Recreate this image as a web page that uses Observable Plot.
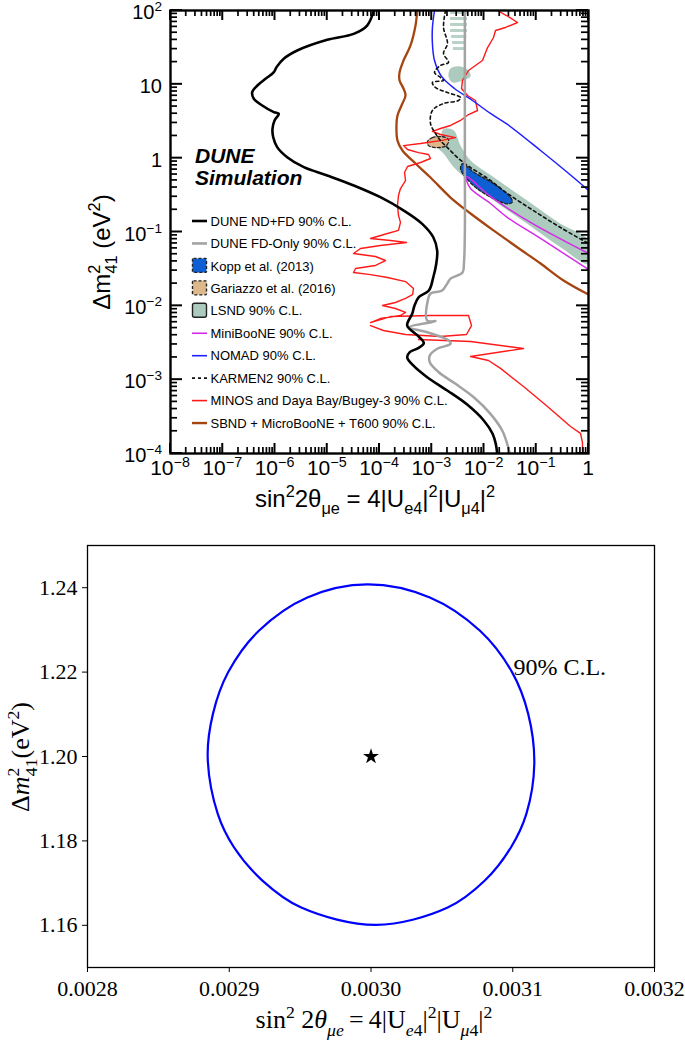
<!DOCTYPE html>
<html><head><meta charset="utf-8">
<script src="https://cdn.jsdelivr.net/npm/d3@7"></script>
<script src="https://cdn.jsdelivr.net/npm/@observablehq/plot@0.6"></script>
<style>
html,body{margin:0;padding:0;background:#fff;}
#top,#bottom{width:685px;}
svg{display:block;}
</style></head><body>
<div id="top"></div><div id="bottom"></div>
<script>
// ---------- TOP PANEL DATA: [sin^2 2theta, dm^2 (eV^2)] ----------
const sin2Exps = [-8,-7,-6,-5,-4,-3,-2,-1,0];
const dm2Exps = [-4,-3,-2,-1,0,1,2];

const duneNdFd = [[7.8e-5,100],[5.8e-5,62.6],[3.2e-5,48.3],[1.0e-5,40.1],[2.66e-6,28.7],[1.47e-6,22.2],[1.07e-6,17.1],[9.5e-7,14.6],[6.6e-7,11.9],[4.6e-7,9.64],[3.66e-7,7.82],[3.93e-7,6.37],[5.7e-7,5.17],[9.5e-7,4.2],[1.18e-6,3.99],[9.8e-7,3.24],[8.95e-7,2.5],[9.25e-7,1.92],[1.1e-6,1.41],[1.71e-6,1.03],[3.56e-6,0.755],[1.0e-5,0.582],[3.22e-5,0.427],[1.04e-4,0.296],[2.92e-4,0.195],[6.56e-4,0.129],[1.07e-3,0.0849],[1.27e-3,0.0561],[1.22e-3,0.0371],[1.07e-3,0.0244],[8.8e-4,0.0161],[5.65e-4,0.0131],[4.68e-4,0.0101],[4.23e-4,7.8e-3],[3.39e-4,5.41e-3],[5.65e-4,3.84e-3],[7.05e-4,3.12e-3],[5.51e-4,2.67e-3],[3.8e-4,2.36e-3],[3.39e-4,2.01e-3],[4.42e-4,1.56e-3],[8.18e-4,1.08e-3],[1.98e-3,7.13e-4],[4.76e-3,4.6e-4],[9.9e-3,2.8e-4],[1.46e-2,1.85e-4],[1.68e-2,1.35e-4],[1.79e-2,1e-4]];

const duneFdOnly = [[4.3e-3,100],[4.3e-3,1],[4.3e-3,0.1],[4.14e-3,0.0386],[3.88e-3,0.0283],[2.29e-3,0.0234],[1.98e-3,0.02],[1.58e-3,0.0161],[9.46e-4,0.0147],[8.39e-4,0.0118],[8.18e-4,6.32e-3],[1.18e-3,6.19e-3],[3.64e-4,5.13e-3],[8.18e-4,4.39e-3],[2.12e-3,3.39e-3],[2.29e-3,3.06e-3],[1.27e-3,2.62e-3],[9.18e-4,2.12e-3],[9.18e-4,1.72e-3],[1.36e-3,1.26e-3],[2.85e-3,8.79e-4],[6.38e-3,5.78e-4],[1.33e-2,3.44e-4],[2.23e-2,2.05e-4],[2.78e-2,1.35e-4],[3.12e-2,1e-4]];

const sbnd = [[5.27e-4,100],[4.89e-4,62.6],[3.92e-4,33.6],[2.88e-4,21],[2.42e-4,14.5],[2.42e-4,11.3],[2.88e-4,8.78],[3.15e-4,7.06],[2.64e-4,5.17],[2.21e-4,3.78],[2.11e-4,2.6],[2.21e-4,1.73],[2.75e-4,1.27],[4.89e-4,0.847],[9.46e-4,0.547],[2.29e-3,0.293],[5.52e-3,0.178],[1.52e-2,0.105],[4.38e-2,0.0617],[0.121,0.0374],[0.333,0.022],[1,0.0142]];

const nomad = [[1.13e-3,100],[1.03e-3,58.9],[1.03e-3,35.7],[1.13e-3,21],[1.54e-3,12.8],[2.72e-3,8.78],[6.03e-3,6.04],[1.33e-2,4.03],[2.82e-2,2.86],[0.121,1.27],[0.516,0.547],[1,0.365]];

const miniboone = [[1,0.0512],[7.76e-2,0.135],[1.33e-2,0.303],[5.05e-3,0.547],[4.43e-3,0.565],[4.62e-3,0.498],[5.52e-3,0.388],[1.33e-2,0.243],[2.82e-2,0.157],[0.121,0.0817],[1,0.031]];

const karmen2 = [[1.83e-3,100],[1.68e-3,58.9],[2.0e-3,35.7],[1.68e-3,26.2],[2.09e-3,19.8],[1.47e-3,18],[1.13e-3,14.5],[1.47e-3,12.4],[1.68e-3,11.3],[1.03e-3,10.6],[1.18e-3,9.06],[2.0e-3,7.75],[3.55e-3,6.63],[3.25e-3,6.04],[1.68e-3,5.5],[1.03e-3,4.42],[9.46e-4,2.95],[1.18e-3,2.16],[1.47e-3,1.73],[2.0e-3,1.39],[3.11e-3,1.02],[4.83e-3,0.796],[1.17e-2,0.531],[2.82e-2,0.332],[8.85e-2,0.195],[0.291,0.115],[1,0.0698]];

const minosUpper = [[1.79e-2,100],[2.70e-2,85.5],[4.38e-2,68.8],[2.58e-2,58.9],[1.66e-2,53.6],[1.52e-2,43.1],[1.17e-2,31.5],[9.35e-3,21.0],[5.05e-3,15.4],[3.88e-3,11.3],[3.71e-3,8.78],[4.83e-3,7.06],[6.87e-3,6.04],[7.52e-3,4.42],[5.05e-3,3.9],[3.55e-3,3.24],[2.29e-3,2.77],[1.47e-3,2.52],[1.03e-3,2.3],[1.47e-3,2.09],[2.85e-3,1.9],[1.47e-3,1.73],[6.1e-4,1.58],[2.88e-4,1.48],[3.44e-4,1.31],[5.57e-4,1.19],[8.67e-4,1.12],[9.46e-4,0.989],[6.1e-4,0.873],[3.44e-4,0.771],[3.01e-4,0.64],[3.15e-4,0.498],[2.52e-4,0.388],[2.31e-4,0.312],[2.21e-4,0.229],[2.31e-4,0.167],[2.52e-4,0.135],[2.31e-4,0.105],[1.42e-4,0.0955],[6.73e-5,0.0817],[1.63e-4,0.0767],[3.29e-4,0.0721],[1.04e-4,0.0656],[4.33e-5,0.0597],[3.18e-5,0.0512],[8.38e-5,0.0466],[1.3e-4,0.0411],[8.38e-5,0.0352],[3.48e-5,0.032],[3.18e-5,0.0283],[6.73e-5,0.0265],[1.42e-4,0.0242],[3.15e-4,0.0213],[4.48e-4,0.0172],[4.29e-4,0.0142],[3.15e-4,0.0126],[2.02e-4,0.0111],[1.14e-4,0.0101],[2.02e-4,9.2e-3],[3.15e-4,8.13e-3],[2.52e-4,7.4e-3],[1.04e-4,6.73e-3],[6.73e-5,5.94e-3],[1.63e-4,7.16e-3],[9.46e-4,7.4e-3],[5.05e-3,7.4e-3],[5.77e-3,5.41e-3],[4.62e-3,4.09e-3],[1.47e-3,3.84e-3],[3.15e-4,4.09e-3],[1.19e-4,4.63e-3],[6.73e-5,5.4e-3]];
const minosLower = [[5.57e-4,3.5e-3],[5.52e-3,3.29e-3],[5.7e-2,2.64e-3],[5.52e-3,2.06e-3],[1.22e-2,1.82e-3],[2.07e-2,1.42e-3],[5.7e-2,8.07e-4],[0.164,4.33e-4],[0.453,2.32e-4],[0.703,1.87e-4],[0.767,1.41e-4],[0.767,1e-4]];

const lsndBand = [[1.47e-3,1.92],[1.70e-3,2.5],[2.64e-3,2.37],[3.55e-3,1.48],[5.52e-3,0.929],[1.54e-2,0.552],[6.71e-2,0.267],[0.291,0.129],[1,0.0767],[1,0.0371],[0.291,0.0622],[6.71e-2,0.129],[1.54e-2,0.267],[5.52e-3,0.472],[2.64e-3,0.755],[1.70e-3,1.15],[1.31e-3,1.41]];
const lsndBlob = [[2.29e-3,16.4],[3.55e-3,17.5],[5.05e-3,15.4],[5.52e-3,12.8],[3.88e-3,11.3],[2.49e-3,10.6],[2.09e-3,12.8]];
// high-dm2 LSND stripes: [x1, x2, y1, y2]
const lsndStripes = [[2.29e-3,4.83e-3,88.3,96.9],[2.29e-3,4.83e-3,73.2,80.4],[2.29e-3,4.83e-3,60.7,66.7],[2.29e-3,4.83e-3,50.4,55.3],[2.4e-3,4.7e-3,41.8,45.9],[2.5e-3,4.6e-3,34.6,38.0],[2.6e-3,4.4e-3,28.7,31.5]];

const kopp = [[3.83e-3,0.839],[6.38e-3,0.646],[1.54e-2,0.45],[3.21e-2,0.296],[3.47e-2,0.253],[2.78e-2,0.241],[1.54e-2,0.282],[7.41e-3,0.385],[4.43e-3,0.552],[3.55e-3,0.718]];
const gariazzo = [[8.3e-4,1.68],[1.03e-3,1.9],[1.61e-3,1.95],[2.09e-3,1.79],[1.91e-3,1.48],[1.23e-3,1.39],[8.67e-4,1.48]];

const legendLabels = ["DUNE ND+FD 90% C.L.","DUNE FD-Only 90% C.L.","Kopp et al. (2013)","Gariazzo et al. (2016)","LSND 90% C.L.","MiniBooNE 90% C.L.","NOMAD 90% C.L.","KARMEN2 90% C.L.","MINOS and Daya Bay/Bugey-3 90% C.L.","SBND + MicroBooNE + T600 90% C.L."];

// ---------- BOTTOM PANEL DATA ----------
const ellX = [0.0029974,0.0030415,0.0030769,0.0030995,0.0031109,0.0031152,0.0031096,0.0030988,0.0030803,0.0030541,0.0030035,0.0029508,0.0029234,0.0029033,0.0028919,0.0028848,0.0028885,0.0028993,0.0029209,0.0029551];
const ellY = [1.2408,1.2377,1.2298,1.2200,1.2101,1.1982,1.1864,1.1785,1.1706,1.1642,1.1601,1.1642,1.1706,1.1785,1.1864,1.1998,1.2101,1.2200,1.2298,1.2377];
const bestFit = [0.0030, 1.200];
const clLabel = "90% C.L.";
const clLabelPos = [0.0031005, 1.2211];
const xTicksB = [0.0028,0.0029,0.0030,0.0031,0.0032];
const yTicksB = [1.16,1.18,1.20,1.22,1.24];

// ---------- COLORS ----------
const C = {black:"#000", gray:"#a3a3a3", brown:"#a5450f", red:"#ff1a1a", blue:"#1f1fff", magenta:"#d42be8", lsnd:"#adcabe", kopp:"#0d5fd3", gar:"#dcb88b"};

const ML = 170, MR = 97, MT = 10, MB = 72, TW = 685, TH = 525;
const xy = {x:d=>d[0], y:d=>d[1], clip:true};

const topPlot = Plot.plot({
  width:TW, height:TH, marginLeft:ML, marginRight:MR, marginTop:MT, marginBottom:MB,
  x:{type:"log", domain:[1e-8,1], axis:null},
  y:{type:"log", domain:[1e-4,100], axis:null},
  style:{fontFamily:"'Liberation Sans', Arial, sans-serif", background:"#fff"},
  marks:[
    Plot.rect(lsndStripes, {x1:d=>d[0], x2:d=>d[1], y1:d=>d[2], y2:d=>d[3], fill:C.lsnd, fillOpacity:0.85, clip:true}),
    Plot.line(lsndBlob, {...xy, fill:C.lsnd, stroke:"none", curve:"catmull-rom-closed"}),
    Plot.line(lsndBand, {...xy, fill:C.lsnd, stroke:"none", curve:"catmull-rom-closed"}),
    Plot.line(gariazzo, {...xy, fill:C.gar, stroke:"#222", strokeWidth:1.3, strokeDasharray:"3,2", curve:"catmull-rom-closed"}),
    Plot.line(kopp, {...xy, fill:C.kopp, stroke:"#222", strokeWidth:1.3, strokeDasharray:"3,2", curve:"catmull-rom-closed"}),
    Plot.line(sbnd, {...xy, stroke:C.brown, strokeWidth:2.3, curve:"catmull-rom"}),
    Plot.line(minosUpper, {...xy, stroke:C.red, strokeWidth:1.4, curve:"linear"}),
    Plot.line(minosLower, {...xy, stroke:C.red, strokeWidth:1.4, curve:"linear"}),
    Plot.line(nomad, {...xy, stroke:C.blue, strokeWidth:1.5, curve:"catmull-rom"}),
    Plot.line(miniboone, {...xy, stroke:C.magenta, strokeWidth:1.5, curve:"catmull-rom"}),
    Plot.line(karmen2, {...xy, stroke:"#111", strokeWidth:1.6, strokeDasharray:"3,3", curve:"catmull-rom"}),
    Plot.line(duneFdOnly, {...xy, stroke:C.gray, strokeWidth:2.5, curve:"catmull-rom"}),
    Plot.line(duneNdFd, {...xy, stroke:C.black, strokeWidth:2.6, curve:"catmull-rom"}),
    Plot.frame({stroke:"#000", strokeWidth:2.4})
  ]
});
document.getElementById("top").appendChild(topPlot);

function rich(sel, segs, base){
  let cur = 0;
  segs.forEach(s=>{
    const small = s.sup||s.sub;
    const target = s.sup ? -base*0.4 : s.sub ? base*0.3 : 0;
    const t = sel.append("tspan").attr("font-size", small ? base*0.68 : base).text(s.t);
    if (target-cur !== 0) t.attr("dy", target-cur);
    cur = target;
    if (s.dx) t.attr("dx", s.dx);
    if (s.it) t.attr("font-style","italic");
  });
}

const sx = topPlot.scale("x"), sy = topPlot.scale("y");
const T = d3.select(topPlot);
const sans = "'Liberation Sans', Arial, sans-serif";
const X0 = ML, X1 = TW-MR, Y0 = MT, Y1 = TH-MB;

// inward ticks on all four sides, positioned by Plot's scales
const tg = T.append("g").attr("class","frame-ticks");
function addTick(ax1,ay1,ax2,ay2,w){
  tg.append("line").attr("x1",ax1).attr("y1",ay1).attr("x2",ax2).attr("y2",ay2)
    .attr("stroke","#000").attr("stroke-width",w).attr("fill","none");
}
sin2Exps.forEach((e,i)=>{
  const X = sx.apply(10**e);
  addTick(X,Y1,X,Y1-10,2); addTick(X,Y0,X,Y0+10,2);
  if (i < sin2Exps.length-1) for (let k=2;k<10;k++){ const Xm = sx.apply(k*10**e); addTick(Xm,Y1,Xm,Y1-6,1.7); addTick(Xm,Y0,Xm,Y0+6,1.7); }
});
dm2Exps.forEach((e,i)=>{
  const Y = sy.apply(10**e);
  addTick(X0,Y,X0+12,Y,2); addTick(X1,Y,X1-12,Y,2);
  if (i < dm2Exps.length-1) for (let k=2;k<10;k++){ const Ym = sy.apply(k*10**e); addTick(X0,Ym,X0+7,Ym,1.7); addTick(X1,Ym,X1-7,Ym,1.7); }
});

function powSegs(e){
  if (e===0) return [{t:"1"}];
  if (e===1) return [{t:"10"}];
  return [{t:"10"},{t:(e<0?"\u2212":"")+Math.abs(e), sup:true}];
}
const gx = T.append("g").attr("font-family",sans).attr("fill","#000").attr("text-anchor","start");
sin2Exps.forEach(e=>{
  const t = gx.append("text").attr("x", sx.apply(10**e)).attr("y", 475).attr("text-anchor","middle");
  rich(t, powSegs(e), 21);
});
dm2Exps.forEach(e=>{
  const t = gx.append("text").attr("x", 162).attr("y", sy.apply(10**e)+9).attr("text-anchor","end");
  rich(t, powSegs(e), 20);
});
// axis titles
const xt = gx.append("text").attr("x", 375).attr("y", 507).attr("text-anchor","middle");
rich(xt, [{t:"sin"},{t:"2",sup:true},{t:"2\u03b8"},{t:"\u03bce",sub:true},{t:" = 4|U"},{t:"e4",sub:true},{t:"|"},{t:"2",sup:true},{t:"|U"},{t:"\u03bc4",sub:true},{t:"|"},{t:"2",sup:true}], 24);
const yt = gx.append("text").attr("transform","translate(110,252) rotate(-90)").attr("text-anchor","middle");
rich(yt, [{t:"\u0394m"},{t:"2",sup:true},{t:"41",sub:true,dx:-9},{t:" (eV"},{t:"2",sup:true},{t:")"}], 24);
// DUNE Simulation
gx.append("text").attr("x",195).attr("y",163).attr("font-size",21).attr("font-weight","bold").attr("font-style","italic").text("DUNE");
gx.append("text").attr("x",195).attr("y",185).attr("font-size",21).attr("font-weight","bold").attr("font-style","italic").text("Simulation");
// legend
const legSpec = [
  {type:"line", stroke:C.black, w:2.6},
  {type:"line", stroke:C.gray, w:2.6},
  {type:"box", fill:C.kopp, stroke:"#222", dash:"3,2"},
  {type:"box", fill:C.gar, stroke:"#222", dash:"3,2"},
  {type:"box", fill:C.lsnd, stroke:"#222", dash:null},
  {type:"line", stroke:C.magenta, w:1.6},
  {type:"line", stroke:C.blue, w:1.6},
  {type:"line", stroke:"#111", w:1.6, dash:"3,3"},
  {type:"line", stroke:C.red, w:1.6},
  {type:"line", stroke:C.brown, w:2.4}
];
const lg = T.append("g").attr("font-family",sans).attr("font-size",13).attr("text-anchor","start");
legendLabels.forEach((lab,i)=>{
  const yc = 221 + i*22.45, s = legSpec[i];
  if (s.type==="line") {
    lg.append("line").attr("x1",192).attr("x2",207).attr("y1",yc).attr("y2",yc).attr("stroke",s.stroke).attr("stroke-width",s.w).attr("stroke-dasharray",s.dash||null);
  } else {
    lg.append("rect").attr("x",192.5).attr("y",yc-7.5).attr("width",14).attr("height",14).attr("rx",s.dash?1:2).attr("fill",s.fill).attr("stroke",s.stroke).attr("stroke-width",1.4).attr("stroke-dasharray",s.dash);
  }
  lg.append("text").attr("x",210.5).attr("y",yc+4.6).text(lab);
});

// ---------- BOTTOM PANEL ----------
const ell = ellX.map((x,i)=>({x, y:ellY[i]}));
const serif = "'Liberation Serif', 'DejaVu Serif', serif";
const bot = Plot.plot({
  width:685, height:520, marginLeft:87, marginRight:31, marginTop:20, marginBottom:78,
  style:{fontFamily:serif, fontSize:"22px", background:"#fff", color:"#000"},
  x:{domain:[0.0028,0.0032], ticks:xTicksB, tickFormat:d=>d.toFixed(4), tickSize:5, tickPadding:8, label:null},
  y:{domain:[1.15,1.25], ticks:yTicksB, tickFormat:d=>d.toFixed(2), tickSize:5, tickPadding:5, label:null},
  marks:[
    Plot.frame({stroke:"#000", strokeWidth:1.3}),
    Plot.line(ell, {x:"x", y:"y", stroke:"#0000ff", strokeWidth:2.2, curve:"catmull-rom-closed"}),
    Plot.dot([bestFit], {x:d=>d[0], y:d=>d[1], symbol:"star", r:5, fill:"#000", stroke:"none"}),
    Plot.text([clLabelPos], {x:d=>d[0], y:d=>d[1], text:()=>clLabel, textAnchor:"start", fontSize:24, fill:"#000"})
  ]
});
document.getElementById("bottom").appendChild(bot);
const B = d3.select(bot);
const gb = B.append("g").attr("font-family",serif).attr("fill","#000");
const bxt = gb.append("text").attr("x",374).attr("y",503).attr("text-anchor","middle");
rich(bxt, [{t:"sin"},{t:"2",sup:true},{t:" 2"},{t:"\u03b8",it:true},{t:"\u03bce",sub:true,it:true},{t:"\u2009=\u20094|U"},{t:"e",sub:true,it:true},{t:"4",sub:true},{t:"|"},{t:"2",sup:true},{t:"|U"},{t:"\u03bc",sub:true,it:true},{t:"4",sub:true},{t:"|"},{t:"2",sup:true}], 26);
const byt = gb.append("text").attr("transform","translate(29,232) rotate(-90)").attr("text-anchor","middle");
rich(byt, [{t:"\u0394"},{t:"m",it:true},{t:"2",sup:true},{t:"41",sub:true,dx:-8.5},{t:"(eV"},{t:"2",sup:true},{t:")"}], 26);
</script></body></html>
